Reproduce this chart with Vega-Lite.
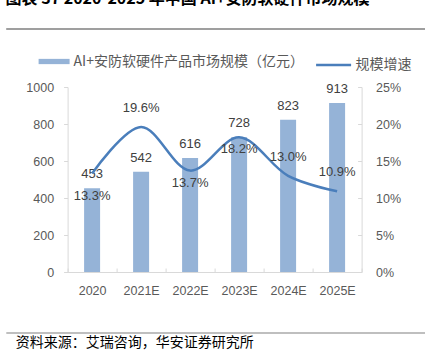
{
  "$schema": "https://vega.github.io/schema/vega-lite/v6.json",
  "padding": {"left": 5, "top": -9, "right": 0, "bottom": 0},
  "background": "white",
  "config": {"view": {"stroke": null}, "font": "Liberation Sans"},
  "datasets": {
    "market": [
      {"year": "2020", "value": 453, "growth": 0.133},
      {"year": "2021E", "value": 542, "growth": 0.196},
      {"year": "2022E", "value": 616, "growth": 0.137},
      {"year": "2023E", "value": 728, "growth": 0.182},
      {"year": "2024E", "value": 823, "growth": 0.130},
      {"year": "2025E", "value": 913, "growth": 0.109}
    ],
    "blank": [{"t": 0}]
  },
  "title": {
    "text": "图表 37 2020-2025 年中国 AI+安防软硬件市场规模",
    "anchor": "start",
    "font": "Noto Sans CJK SC",
    "fontSize": 16,
    "fontWeight": "bold",
    "color": "#000000",
    "offset": 21
  },
  "spacing": 16,
  "center": true,
  "vconcat": [
    {
      "width": 466,
      "height": 1,
      "data": {"name": "blank"},
      "mark": {"type": "rule", "color": "#404040", "strokeWidth": 1.2},
      "encoding": {"y": {"field": "t", "type": "quantitative", "scale": {"domain": [0, 1]}, "axis": null}}
    },
    {
      "spacing": 35,
      "center": true,
      "vconcat": [
        {
          "width": 294,
          "height": 185,
          "data": {"name": "market"},
          "encoding": {
            "x": {
              "field": "year",
              "type": "nominal",
              "sort": null,
              "scale": {"paddingInner": 0, "paddingOuter": 0},
              "axis": {
                "title": null,
                "labelAngle": 0,
                "domainColor": "#D9D9D9",
                "tickColor": "#D9D9D9",
                "tickSize": -4,
                "tickBand": "extent",
                "labelColor": "#595959",
                "labelFontSize": 12.5,
                "labelPadding": 16
              }
            }
          },
          "layer": [
            {
              "encoding": {
                "y": {
                  "field": "value",
                  "type": "quantitative",
                  "scale": {"domain": [0, 1000]},
                  "axis": {
                    "orient": "left",
                    "title": null,
                    "format": "d",
                    "values": [0, 200, 400, 600, 800, 1000],
                    "grid": false,
                    "domainColor": "#D9D9D9",
                    "tickColor": "#D9D9D9",
                    "tickSize": 4,
                    "labelColor": "#595959",
                    "labelFontSize": 12.5,
                    "labelPadding": 10
                  }
                }
              },
              "layer": [
                {
                  "mark": {"type": "bar", "size": 16},
                  "encoding": {
                    "fill": {
                      "datum": "AI+安防软硬件产品市场规模（亿元）",
                      "scale": {"range": ["#95B3D7"]},
                      "legend": {
                        "orient": "none",
                        "legendX": -29,
                        "legendY": -41,
                        "title": null,
                        "padding": 0,
                        "symbolType": "M-1,-0.17L1,-0.17L1,0.17L-1,0.17Z",
                        "symbolSize": 961,
                        "symbolStrokeWidth": 0,
                        "labelFont": "Noto Sans CJK SC",
                        "labelFontSize": 14,
                        "labelColor": "#595959",
                        "labelOffset": 4,
                        "labelLimit": 400
                      }
                    }
                  }
                },
                {
                  "mark": {"type": "text", "baseline": "bottom", "dy": -7, "fontSize": 13, "color": "#404040"},
                  "encoding": {"text": {"field": "value", "type": "quantitative"}}
                }
              ]
            },
            {
              "encoding": {
                "y": {
                  "field": "growth",
                  "type": "quantitative",
                  "scale": {"domain": [0, 0.25]},
                  "axis": {
                    "orient": "right",
                    "title": null,
                    "format": ".0%",
                    "values": [0, 0.05, 0.1, 0.15, 0.2, 0.25],
                    "grid": false,
                    "domainColor": "#D9D9D9",
                    "tickColor": "#D9D9D9",
                    "tickSize": -4,
                    "labelColor": "#595959",
                    "labelFontSize": 12.5,
                    "labelPadding": 18
                  }
                }
              },
              "layer": [
                {
                  "mark": {"type": "line", "interpolate": "catmull-rom", "strokeWidth": 2.5},
                  "encoding": {
                    "stroke": {
                      "datum": "规模增速",
                      "scale": {"range": ["#4A7EBB"]},
                      "legend": {
                        "orient": "none",
                        "legendX": 247,
                        "legendY": -41,
                        "title": null,
                        "padding": 0,
                        "symbolType": "stroke",
                        "symbolSize": 1225,
                        "symbolStrokeWidth": 2.5,
                        "labelFont": "Noto Sans CJK SC",
                        "labelFontSize": 14,
                        "labelColor": "#595959",
                        "labelOffset": 3
                      }
                    }
                  }
                },
                {
                  "transform": [{"filter": {"field": "year", "oneOf": ["2021E", "2024E", "2025E"]}}],
                  "mark": {"type": "text", "baseline": "middle", "dy": -19, "fontSize": 13, "color": "#404040"},
                  "encoding": {"text": {"field": "growth", "type": "quantitative", "format": ".1%"}}
                },
                {
                  "transform": [{"filter": {"field": "year", "oneOf": ["2022E", "2023E"]}}],
                  "mark": {"type": "text", "baseline": "middle", "dy": 12, "fontSize": 13, "color": "#404040"},
                  "encoding": {"text": {"field": "growth", "type": "quantitative", "format": ".1%"}}
                },
                {
                  "transform": [{"filter": {"field": "year", "oneOf": ["2020"]}}],
                  "mark": {"type": "text", "baseline": "middle", "dy": 22, "fontSize": 13, "color": "#404040"},
                  "encoding": {"text": {"field": "growth", "type": "quantitative", "format": ".1%"}}
                }
              ]
            }
          ],
          "resolve": {"scale": {"y": "independent", "fill": "independent", "stroke": "independent"}}
        },
        {
          "width": 466,
          "height": 1,
          "data": {"name": "blank"},
          "mark": {"type": "rule", "color": "#808080", "strokeWidth": 1.2},
          "encoding": {"y": {"field": "t", "type": "quantitative", "scale": {"domain": [0, 1]}, "axis": null}},
          "title": {
            "text": "资料来源：艾瑞咨询，华安证券研究所",
            "orient": "bottom",
            "anchor": "start",
            "dx": 10,
            "offset": 2,
            "font": "Noto Sans CJK SC",
            "fontSize": 14,
            "fontWeight": "normal",
            "color": "#000000"
          }
        }
      ]
    }
  ]
}
